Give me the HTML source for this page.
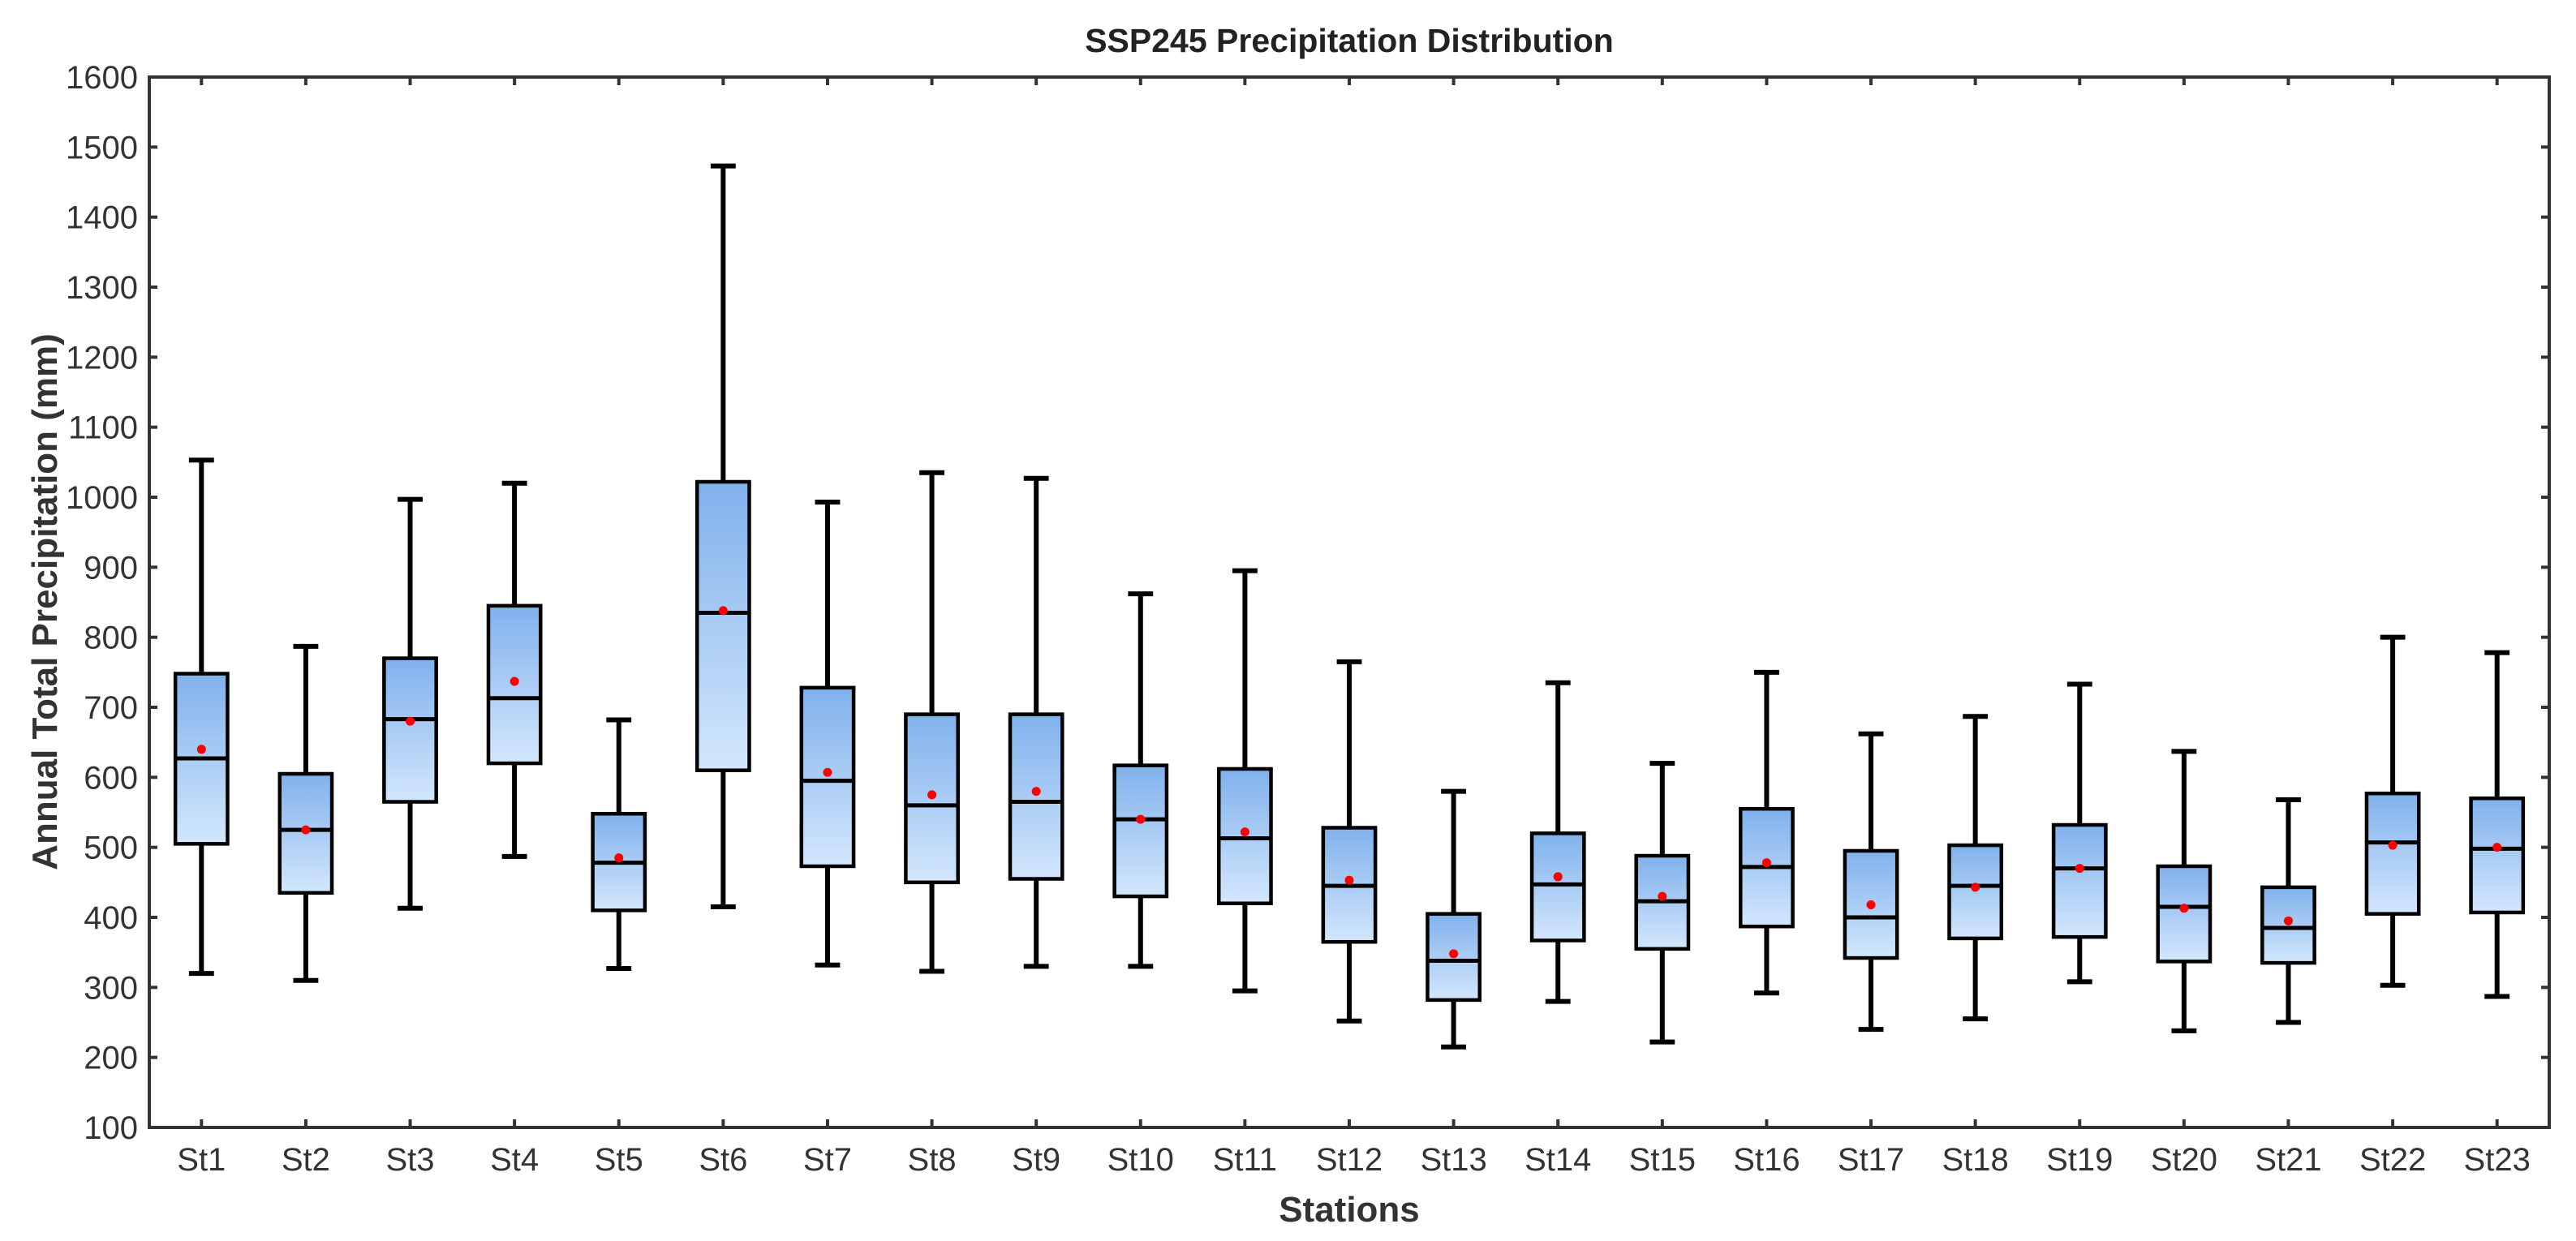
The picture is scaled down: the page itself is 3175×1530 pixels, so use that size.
<!DOCTYPE html>
<html><head><meta charset="utf-8"><style>
html,body{margin:0;padding:0;background:#fff;}
svg text{font-family:"Liberation Sans",Arial,sans-serif;}
</style></head><body>
<svg id="chart" width="3175" height="1525" viewBox="0 0 3175 1525" xmlns="http://www.w3.org/2000/svg">
<defs>
<linearGradient id="boxgrad" x1="0" y1="0" x2="0" y2="1">
<stop offset="0" stop-color="#80b1ec"/>
<stop offset="1" stop-color="#d3e7fc"/>
</linearGradient>
</defs>
<text x="1663" y="64" text-anchor="middle" font-size="41" font-weight="bold" fill="#222">SSP245 Precipitation Distribution</text>
<text x="1663" y="1506" text-anchor="middle" font-size="44" font-weight="bold" fill="#333">Stations</text>
<text transform="translate(70,742) rotate(-90)" text-anchor="middle" font-size="44" font-weight="bold" fill="#333">Annual Total Precipitation (mm)</text>
<g id="marks"></g>
<g id="axes"></g>
</svg>
<script>
const stations = ["St1","St2","St3","St4","St5","St6","St7","St8","St9","St10","St11","St12","St13","St14","St15","St16","St17","St18","St19","St20","St21","St22","St23"];
const whiskerLow = [320,310,413,487,327,415,332,323,330,330,295,252,215,280,222,292,240,255,308,238,250,303,287];
const q1 = [505,435,565,620,410,610,473,450,455,430,420,365,282,367,355,387,342,370,372,337,335,405,407];
const median = [627,525,683,713,478,835,595,560,565,540,513,445,338,447,423,472,400,445,470,415,385,507,498];
const q3 = [748,605,770,845,548,1022,728,690,690,617,612,528,405,520,488,555,495,503,532,473,443,577,570];
const whiskerHigh = [1053,787,997,1020,682,1473,993,1035,1027,862,895,765,580,735,620,750,662,687,733,637,568,800,778];
const means = [640,525,680,737,485,838,607,575,580,540,522,453,348,458,430,478,418,443,470,413,395,503,500];
const yTicks = [100,200,300,400,500,600,700,800,900,1000,1100,1200,1300,1400,1500,1600];

const L=184, R=3142, T=95, B=1390, yMin=100, yMax=1600;
const unit=(R-L)/stations.length;
function xs(i){return L+unit*(i+0.5);}
function ys(v){return B-(v-yMin)/(yMax-yMin)*(B-T);}
const NS="http://www.w3.org/2000/svg";
function mk(tag,attrs,parent){const e=document.createElementNS(NS,tag);for(const k in attrs)e.setAttribute(k,attrs[k]);parent.appendChild(e);return e;}
const marks=document.getElementById('marks'), axes=document.getElementById('axes');
const bw=unit*0.25, cw=unit*0.12;
stations.forEach((s,i)=>{
  const x=xs(i);
  const g=mk('g',{},marks);
  
  
  const w1=mk('line',{x1:x,x2:x,y1:ys(q3[i]),y2:ys(whiskerHigh[i]),stroke:'#000','stroke-width':6},g);
  
  
  const w2=mk('line',{x1:x,x2:x,y1:ys(q1[i]),y2:ys(whiskerLow[i]),stroke:'#000','stroke-width':6},g);
  
  
  const c1=mk('line',{x1:x-cw,x2:x+cw,y1:ys(whiskerHigh[i]),y2:ys(whiskerHigh[i]),stroke:'#000','stroke-width':6},g);
  
  
  const c2=mk('line',{x1:x-cw,x2:x+cw,y1:ys(whiskerLow[i]),y2:ys(whiskerLow[i]),stroke:'#000','stroke-width':6},g);
  
  
  const r=mk('rect',{x:x-bw,y:ys(q3[i]),width:2*bw,height:ys(q1[i])-ys(q3[i]),fill:'url(#boxgrad)',stroke:'#000','stroke-width':4.5},g);
  
  
  const m=mk('line',{x1:x-bw,x2:x+bw,y1:ys(median[i]),y2:ys(median[i]),stroke:'#000','stroke-width':5},g);
  
  
  const d=mk('circle',{cx:x,cy:ys(means[i]),r:5.5,fill:'#ff0000'},g);
  
  
  // x ticks
  const tb=mk('line',{x1:x,x2:x,y1:B,y2:B-10,stroke:'#333','stroke-width':4},axes);
  
  
  const tt=mk('line',{x1:x,x2:x,y1:T,y2:T+10,stroke:'#333','stroke-width':4},axes);
  
  
  const lb=mk('text',{x:x,y:1443,'text-anchor':'middle','font-size':40,fill:'#333'},axes);
  lb.textContent=s;
  
  
});
yTicks.forEach(v=>{
  const y=ys(v);
  const t1=mk('line',{x1:L,x2:L+10,y1:y,y2:y,stroke:'#333','stroke-width':4},axes);
  
  
  const t2=mk('line',{x1:R,x2:R-10,y1:y,y2:y,stroke:'#333','stroke-width':4},axes);
  
  
  const lb=mk('text',{x:170,y:y+14,'text-anchor':'end','font-size':40,fill:'#333'},axes);
  lb.textContent=v;
  
  
});
const fr=mk('rect',{x:L,y:T,width:R-L,height:B-T,fill:'none',stroke:'#333','stroke-width':4},axes);


</script>
</body></html>
